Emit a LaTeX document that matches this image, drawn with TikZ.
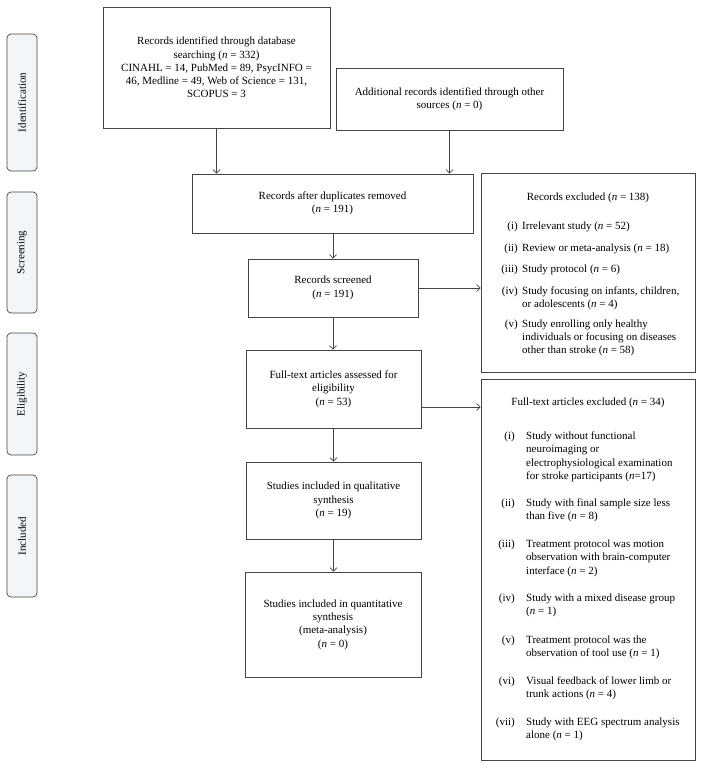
\documentclass[tikz,border=0pt]{standalone}
\usepackage{fontspec}
\setmainfont{Liberation Serif}
\usetikzlibrary{arrows.meta}
\definecolor{lineC}{HTML}{444444}
\definecolor{phaseF}{HTML}{F3F6F8}
\tikzset{
  box/.style={draw=lineC, line width=0.8pt, inner sep=0pt, align=center, font=\fontsize{11}{13.3}\selectfont},
  phase/.style={draw=lineC, line width=0.7pt, fill=phaseF, rounded corners=4pt, rotate=90, minimum height=30pt, inner sep=0pt, font=\fontsize{11}{12}\selectfont},
  arr/.style={draw=lineC, line width=0.7pt, -{Straight Barb[length=3.5pt,width=7pt]}},
  lab/.style={anchor=base east, inner sep=0pt, font=\fontsize{11}{13.3}\selectfont},
  itm/.style={anchor=base west, inner sep=0pt, font=\fontsize{11}{13.3}\selectfont},
}
\begin{document}
\begin{tikzpicture}[x=1pt,y=-1pt]
\useasboundingbox (0,0) rectangle (703,768);
% phases
\node[phase, minimum width=137pt] (p1) at (22,102.5) {Identification};
\node[phase, minimum width=121pt] (p2) at (22,252.5) {Screening};
\node[phase, minimum width=122pt] (p3) at (22,394) {Eligibility};
\node[phase, minimum width=122pt] (p4) at (22,536) {Included};
% main boxes
\node[box, minimum width=227pt, minimum height=121pt] (b1) at (216.5,67.5)
 {Records identified through database\\ searching (\textit{n} = 332)\\ CINAHL = 14, PubMed = 89, PsycINFO =\\ 46, Medline = 49, Web of Science = 131,\\ SCOPUS = 3};
\node[box, minimum width=227pt, minimum height=62pt] (b2) at (449.5,99)
 {Additional records identified through other\\ sources (\textit{n} = 0)};
\node[box, minimum width=281pt, minimum height=59pt] (b3) at (332.5,203.5)
 {Records after duplicates removed\\ (\textit{n} = 191)};
\node[box, minimum width=170pt, minimum height=58pt] (b4) at (333,288)
 {Records screened\\ (\textit{n} = 191)};
\node[box, minimum width=175pt, minimum height=78pt] (b5) at (333.5,389)
 {Full-text articles assessed for\\ eligibility\\ (\textit{n} = 53)};
\node[box, minimum width=175pt, minimum height=77pt] (b6) at (333.5,500.5)
 {Studies included in qualitative\\ synthesis\\ (\textit{n} = 19)};
\node[box, minimum width=176pt, minimum height=105pt] (b7) at (333,624.5)
 {Studies included in quantitative\\ synthesis\\ (meta-analysis)\\ (\textit{n} = 0)};
\node[box, minimum width=214pt, minimum height=199pt] (e1) at (588,272.5) {};
\node[box, minimum width=214pt, minimum height=381pt] (e2) at (588,569.5) {};
% excluded 1 contents
\node[itm, anchor=base] (e1t) at (588,200.5) {Records excluded (\textit{n} = 138)};
\node[lab] (e1l1) at (518,229.5) {(i)};
\node[itm] (e1i1) at (522,229.5) {Irrelevant study (\textit{n} = 52)};
\node[lab] (e1l2) at (518,251) {(ii)};
\node[itm] (e1i2) at (522,251) {Review or meta-analysis (\textit{n} = 18)};
\node[lab] (e1l3) at (518,272.5) {(iii)};
\node[itm] (e1i3) at (522,272.5) {Study protocol (\textit{n} = 6)};
\node[lab] (e1l4) at (518,294) {(iv)};
\node[itm] (e1i4) at (522,294) {\parbox[t]{170pt}{Study focusing on infants, children,\\ or adolescents (\textit{n} = 4)}};
\node[lab] (e1l5) at (518,327) {(v)};
\node[itm] (e1i5) at (522,327) {\parbox[t]{170pt}{Study enrolling only healthy\\ individuals or focusing on diseases\\ other than stroke (\textit{n} = 58)}};
% excluded 2 contents
\node[itm, anchor=base] (e2t) at (588,405.5) {Full-text articles excluded (\textit{n} = 34)};
\node[lab] (e2l1) at (515,439.5) {(i)};
\node[itm] (e2i1) at (526,439.5) {\parbox[t]{165pt}{Study without functional\\ neuroimaging or\\ electrophysiological examination\\ for stroke participants (\textit{n}=17)}};
\node[lab] (e2l2) at (515,506.5) {(ii)};
\node[itm] (e2i2) at (526,506.5) {\parbox[t]{165pt}{Study with final sample size less\\ than five (\textit{n} = 8)}};
\node[lab] (e2l3) at (515,547.5) {(iii)};
\node[itm] (e2i3) at (526,547.5) {\parbox[t]{165pt}{Treatment protocol was motion\\ observation with brain-computer\\ interface (\textit{n} = 2)}};
\node[lab] (e2l4) at (515,601.5) {(iv)};
\node[itm] (e2i4) at (526,601.5) {\parbox[t]{165pt}{Study with a mixed disease group\\ (\textit{n} = 1)}};
\node[lab] (e2l5) at (515,643.5) {(v)};
\node[itm] (e2i5) at (526,643.5) {\parbox[t]{165pt}{Treatment protocol was the\\ observation of tool use (\textit{n} = 1)}};
\node[lab] (e2l6) at (515,684.5) {(vi)};
\node[itm] (e2i6) at (526,684.5) {\parbox[t]{165pt}{Visual feedback of lower limb or\\ trunk actions (\textit{n} = 4)}};
\node[lab] (e2l7) at (515,725.5) {(vii)};
\node[itm] (e2i7) at (526,725.5) {\parbox[t]{165pt}{Study with EEG spectrum analysis\\ alone (\textit{n} = 1)}};
% connectors
\draw[arr] (b1.south) -- (b1.south |- b3.north);
\draw[arr] (b2.south) -- (b2.south |- b3.north);
\draw[arr] (b3.south -| b4.north) -- (b4.north);
\draw[arr] (b4.south) -- (b4.south |- b5.north);
\draw[arr] (b5.south) -- (b5.south |- b6.north);
\draw[arr] (b6.south) -- (b6.south |- b7.north);
\draw[arr] (b4.east) -- (b4.east -| e1.west);
\coordinate (s5) at ([yshift=-18pt]b5.east);
\draw[arr] (s5) -- (s5 -| e2.west);
\end{tikzpicture}
\end{document}
